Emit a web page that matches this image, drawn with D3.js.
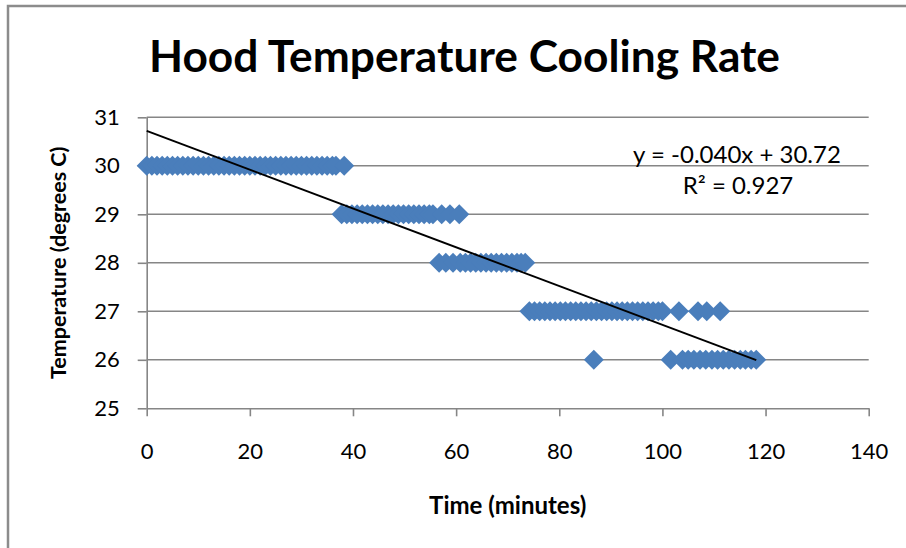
<!DOCTYPE html>
<html>
<head>
<meta charset="utf-8">
<script src="https://cdn.jsdelivr.net/npm/d3@7/dist/d3.min.js"></script>
<style>
  html, body { margin: 0; padding: 0; background: #fff; }
  svg { display: block; }
  text { font-family: Lato, "Open Sans", sans-serif; fill: #000; }
</style>
</head>
<body>
<svg id="chart" width="906" height="548"></svg>
<script>
// ---- data ----
const chartTitle = "Hood Temperature Cooling Rate";
const xTitle = "Time (minutes)";
const yTitle = "Temperature (degrees C)";
const xTicks = [0, 20, 40, 60, 80, 100, 120, 140];
const yTicks = [25, 26, 27, 28, 29, 30, 31];
const tempLevels = [30, 29, 28, 27, 26];
const timesAt30 = [0,1,2,3,4,5,6,7,8,9,10,11,12,13,14,15,16,17,18,19,20,21,22,23,24,25,26,27,28,29,30,31,32,33,34,35,36,36.7,38.3];
const timesAt29 = [37.8,38.8,39.8,40.8,41.8,42.8,43.8,44.8,45.8,46.8,47.8,48.8,49.8,50.8,51.8,52.8,53.8,54.8,55.5,57.2,58.8,60.6];
const timesAt28 = [56.7,58.0,59.4,60.8,61.8,62.8,63.8,64.8,65.8,66.8,67.8,68.8,69.8,70.8,71.8,72.6,73.4];
const timesAt27 = [74.2,75.2,76.2,77.2,78.2,79.2,80.2,81.2,82.2,83.2,84.2,85.2,86.2,87.2,88.2,89.2,90.2,91.2,92.2,93.2,94.2,95.2,96.2,97.2,98.2,99.2,100,103.2,106.9,108.6,111.2];
const timesAt26 = [86.7,101.6,103.9,105.0,106.1,107.3,108.4,109.6,110.7,111.8,112.9,114.0,115.1,116.1,117.2,118.2];
const trendSlope = -0.040;
const trendIntercept = 30.72;
const trendLabel = "y = -0.040x + 30.72";
const r2Label = "R² = 0.927";

const timesByLevel = [timesAt30, timesAt29, timesAt28, timesAt27, timesAt26];
const points = [];
tempLevels.forEach((t, i) => timesByLevel[i].forEach(x => points.push({x: x, y: t})));
const trendStart = 0;
const trendEnd = d3.max(points, d => d.x);

// ---- layout ----
const svg = d3.select("#chart");
const gridColor = "#868686";
const x = d3.scaleLinear().domain([0, 140]).range([146.7, 868.7]);
const y = d3.scaleLinear().domain([25, 31]).range([408.3, 117.3]);

// outer frame
svg.append("path")
  .attr("d", "M8,548V6H906")
  .attr("fill", "none")
  .attr("stroke", "#8c8c8c")
  .attr("stroke-width", 2.5);

// gridlines
svg.append("g").selectAll("line")
  .data(yTicks.filter(v => v > 25))
  .join("line")
  .attr("x1", x(0)).attr("x2", x(140))
  .attr("y1", d => y(d)).attr("y2", d => y(d))
  .attr("stroke", gridColor).attr("stroke-width", 1.6);

// axes
const yAxis = svg.append("g")
  .attr("transform", `translate(${x(0)},0)`)
  .call(d3.axisLeft(y).tickValues(yTicks).tickSize(9).tickSizeOuter(0).tickPadding(18).tickFormat(d3.format("d")));
const xAxis = svg.append("g")
  .attr("transform", `translate(0,${y(25)})`)
  .call(d3.axisBottom(x).tickValues(xTicks).tickSize(8).tickSizeOuter(0).tickPadding(27).tickFormat(d3.format("d")));
[xAxis, yAxis].forEach(g => {
  g.select(".domain").attr("stroke", gridColor).attr("stroke-width", 1.6);
  g.selectAll(".tick line").attr("stroke", gridColor).attr("stroke-width", 1.6);
  g.selectAll(".tick text").attr("font-family", "Lato, 'Open Sans', sans-serif").attr("font-size", 22).attr("fill", "#000");
});

// markers
const diamond = "M0,-10L10,0L0,10L-10,0Z";
svg.append("g").selectAll("path")
  .data(points)
  .join("path")
  .attr("d", diamond)
  .attr("transform", d => `translate(${x(d.x)},${y(d.y)})`)
  .attr("fill", "#4a7ebb");

// trendline
svg.append("line")
  .attr("x1", x(trendStart)).attr("y1", y(trendIntercept + trendSlope * trendStart))
  .attr("x2", x(trendEnd)).attr("y2", y(trendIntercept + trendSlope * trendEnd))
  .attr("stroke", "#000").attr("stroke-width", 2);

// trend labels
svg.append("text").attr("x", 737).attr("y", 163).attr("text-anchor", "middle")
  .attr("font-size", 24).text(trendLabel);
svg.append("text").attr("x", 738).attr("y", 194).attr("text-anchor", "middle")
  .attr("font-size", 24).text(r2Label);

// titles
svg.append("text").attr("x", 464.5).attr("y", 72).attr("text-anchor", "middle")
  .attr("font-size", 43).attr("font-weight", "bold")
  .attr("textLength", 631).attr("lengthAdjust", "spacingAndGlyphs")
  .text(chartTitle);
svg.append("text").attr("x", (x(0) + x(140)) / 2).attr("y", 514).attr("text-anchor", "middle")
  .attr("font-size", 24).attr("font-weight", "bold").text(xTitle);
svg.append("text")
  .attr("transform", `translate(66,${(y(25) + y(31)) / 2}) rotate(-90)`)
  .attr("text-anchor", "middle")
  .attr("font-size", 21.5).attr("font-weight", "bold").text(yTitle);
</script>
</body>
</html>
